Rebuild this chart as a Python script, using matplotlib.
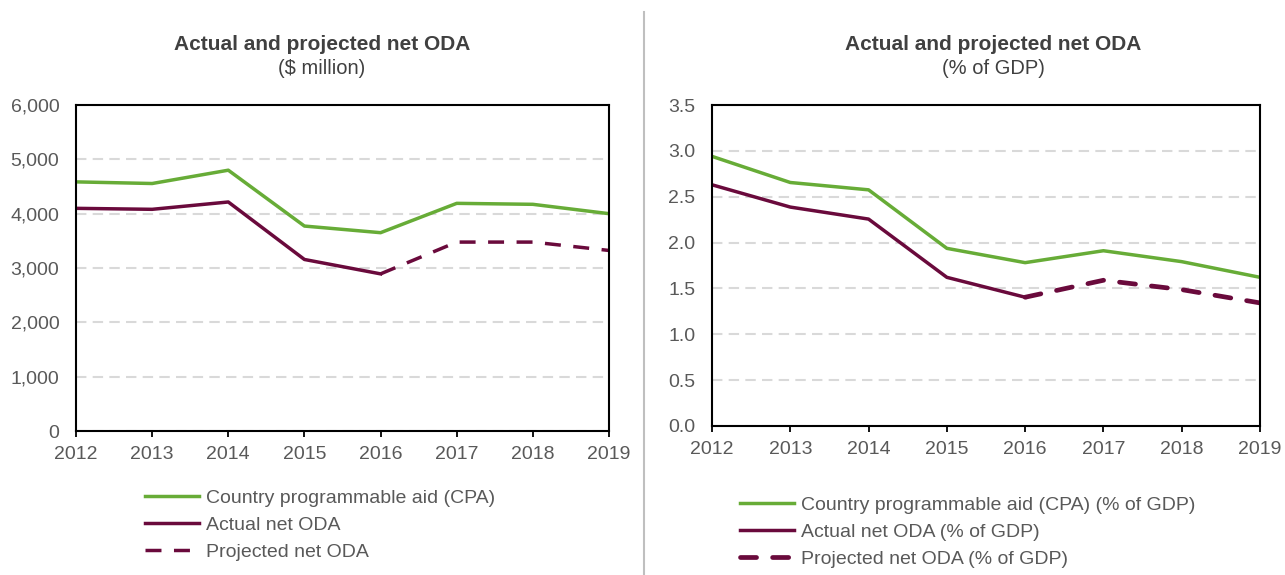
import numpy as np
import matplotlib
matplotlib.use('Agg')
import matplotlib.pyplot as plt
from matplotlib.lines import Line2D

plt.rcParams['font.family'] = ['Liberation Sans', 'DejaVu Sans']

# Data
years = [2012, 2013, 2014, 2015, 2016, 2017, 2018, 2019]

# Left panel: $ million
cpa_usd = [4585, 4555, 4800, 3772, 3650, 4190, 4172, 4000]
actual_usd = [4098, 4080, 4215, 3157, 2892]
proj_usd = [2892, 3477, 3477, 3323]

# Right panel: % of GDP
cpa_gdp = [2.94, 2.655, 2.575, 1.937, 1.781, 1.911, 1.792, 1.621]
actual_gdp = [2.630, 2.387, 2.256, 1.621, 1.404]
proj_gdp = [1.404, 1.589, 1.487, 1.342]

GREEN = '#67AC37'
MAROON = '#6A0A3C'
TICK_COL = '#595959'
TITLE_COL = '#404040'
GRID_COL = '#D9D9D9'
FS = 14


def style_axes(ax, ymax, step, fmt):
    ax.set_xlim(years[0], years[-1])
    ax.set_ylim(0, ymax)
    ax.set_xticks(years)
    ax.set_yticks(np.arange(0, ymax + step / 2, step))
    ax.yaxis.set_major_formatter(plt.FuncFormatter(fmt))
    ax.grid(axis='y', color=GRID_COL, linestyle=(0, (5, 3)), linewidth=1.5)
    ax.set_axisbelow(True)
    for s in ax.spines.values():
        s.set_color('black')
        s.set_linewidth(1.5)
    ax.tick_params(axis='x', direction='out', length=4, width=1.3,
                   color='black', labelsize=FS, labelcolor=TICK_COL, pad=7)
    ax.tick_params(axis='y', length=0, labelsize=FS, labelcolor=TICK_COL, pad=12)


fig = plt.figure(figsize=(12.85, 5.75), dpi=100)

# Left chart
ax1 = fig.add_axes([76 / 1285, 1 - 431 / 575, 533 / 1285, 326 / 575])
ax1.plot(years, cpa_usd, color=GREEN, lw=2.5, solid_joinstyle='round')
ax1.plot(years[:5], actual_usd, color=MAROON, lw=2.5, solid_joinstyle='round')
ax1.plot(years[4:], proj_usd, color=MAROON, lw=2.5, dashes=(4.6, 3.6))
style_axes(ax1, 6000, 1000, lambda v, p: f'{int(v):,}')

# Right chart
ax2 = fig.add_axes([712 / 1285, 1 - 426 / 575, 548 / 1285, 321 / 575])
ax2.plot(years, cpa_gdp, color=GREEN, lw=2.5, solid_joinstyle='round')
ax2.plot(years[:5], actual_gdp, color=MAROON, lw=2.5, solid_joinstyle='round')
ax2.plot(years[4:], proj_gdp, color=MAROON, lw=3.4, dashes=(3.4, 3.4),
         dash_capstyle='round')
style_axes(ax2, 3.5, 0.5, lambda v, p: f'{v:.1f}')

# Titles
for cx, sub in [(322, '($ million)'), (993, '(% of GDP)')]:
    fig.text(cx / 1285, 1 - 45 / 575, 'Actual and projected net ODA', ha='center',
             va='center', fontsize=15, fontweight='bold', color=TITLE_COL)
    fig.text(cx / 1285, 1 - 69 / 575, sub, ha='center', va='center',
             fontsize=14.5, color=TITLE_COL)

# Separator between panels
fig.add_artist(Line2D([644 / 1285, 644 / 1285], [0, 1 - 12 / 575],
                      color='#BFBFBF', lw=1.5))

# Legends
h1 = [Line2D([], [], color=GREEN, lw=2.5),
      Line2D([], [], color=MAROON, lw=2.5),
      Line2D([], [], color=MAROON, lw=2.5, dashes=(4.6, 3.6))]
l1 = ['Country programmable aid (CPA)', 'Actual net ODA', 'Projected net ODA']
fig.legend(h1, l1, loc='upper left', bbox_to_anchor=(145 / 1285, 1 - 489 / 575),
           frameon=False, fontsize=FS, handlelength=2.8, handletextpad=0.35,
           labelspacing=0.49, borderpad=0, borderaxespad=0, labelcolor=TICK_COL)

h2 = [Line2D([], [], color=GREEN, lw=2.5),
      Line2D([], [], color=MAROON, lw=2.5),
      Line2D([], [], color=MAROON, lw=3.4, dashes=(3.4, 3.4), dash_capstyle='round')]
l2 = ['Country programmable aid (CPA) (% of GDP)', 'Actual net ODA (% of GDP)',
      'Projected net ODA (% of GDP)']
fig.legend(h2, l2, loc='upper left', bbox_to_anchor=(740 / 1285, 1 - 496 / 575),
           frameon=False, fontsize=FS, handlelength=2.8, handletextpad=0.35,
           labelspacing=0.49, borderpad=0, borderaxespad=0, labelcolor=TICK_COL)

fig.savefig('out.png', dpi=100)
